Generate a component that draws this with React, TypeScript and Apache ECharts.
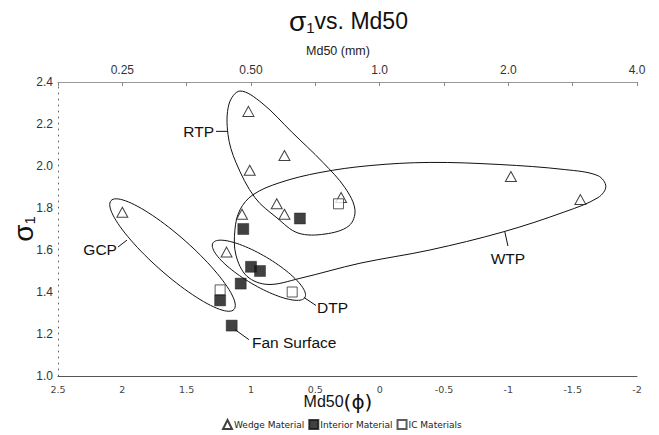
import React, { useEffect, useRef } from 'react';
import * as echarts from 'echarts';

// ---- data (x = Md50 in phi units, y = sigma1) ----
const wedgeMaterial: number[][] = [
  [2.0, 1.78], [1.02, 2.26], [0.74, 2.05], [1.01, 1.98], [0.8, 1.82], [0.74, 1.77],
  [1.07, 1.77], [0.3, 1.85], [1.19, 1.59], [-1.02, 1.95], [-1.56, 1.84],
];
const interiorMaterial: number[][] = [
  [0.62, 1.75], [1.06, 1.7], [1.0, 1.52], [0.93, 1.5], [1.08, 1.44], [1.24, 1.36], [1.15, 1.24],
];
const icMaterials: number[][] = [[0.32, 1.82], [1.24, 1.41], [0.68, 1.4]];

const seriesNames = ['Wedge Material', 'Interior Material', 'IC Materials'];

// top axis (mm) tick labels at phi positions
const topTickPhi = [2, 1, 0, -1, -2];
const topTickLabels = ['0.25', '0.50', '1.0', '2.0', '4.0'];

// envelope outlines (data space)
const rtpOutline: number[][] = [
  [1.086, 2.357], [0.915, 2.3], [0.682, 2.161], [0.441, 2.017], [0.27, 1.897], [0.192, 1.791],
  [0.239, 1.715], [0.425, 1.676], [0.635, 1.681], [0.798, 1.753], [0.969, 1.849], [1.117, 2.017],
  [1.179, 2.151], [1.171, 2.295],
];
const wtpOutline: number[][] = [
  [0.985, 1.863], [0.775, 1.921], [0.464, 1.969], [0.076, 2.002], [-0.39, 2.017], [-0.934, 2.007],
  [-1.439, 1.983], [-1.696, 1.954], [-1.758, 1.902], [-1.696, 1.849], [-1.439, 1.782], [-0.958, 1.686],
  [-0.39, 1.6], [0.153, 1.537], [0.62, 1.465], [0.868, 1.436], [1.031, 1.475], [1.117, 1.576],
  [1.125, 1.695], [1.086, 1.791],
];
// ellipses: two tips in data space
const gcpTips: number[][] = [[2.088, 1.835], [1.132, 1.317]];
const dtpTips: number[][] = [[1.296, 1.633], [0.581, 1.374]];

// envelope labels: leader from -> to (data space)
const labelNames = ['RTP', 'GCP', 'DTP', 'WTP', 'Fan Surface'];
const labelFrom: number[][] = [[1.272, 2.165], [2.034, 1.614], [0.495, 1.336], [-0.997, 1.619], [1.016, 1.173]];
const labelTo: number[][] = [[1.179, 2.165], [1.964, 1.647], [0.589, 1.374], [-0.973, 1.686], [1.125, 1.221]];

// ---- styles ----
const SANS = '"Liberation Sans", Arial, Helvetica, sans-serif';
const VERD = '"DejaVu Sans", Verdana, sans-serif';
const ellipseHalfWidth: Record<string, number> = { GCP: 19, DTP: 15 };
const labelPlacement: Record<string, { align: string; dx: number; dy: number; vAlign: string }> = {
  RTP: { align: 'right', dx: -2, dy: 0, vAlign: 'middle' },
  GCP: { align: 'right', dx: -1, dy: 2, vAlign: 'middle' },
  DTP: { align: 'left', dx: 1, dy: 2, vAlign: 'middle' },
  WTP: { align: 'center', dx: 0, dy: 4, vAlign: 'top' },
  'Fan Surface': { align: 'left', dx: 3, dy: 3, vAlign: 'middle' },
};

const lineStyle = { fill: 'none', stroke: '#111', lineWidth: 1 };

function curveRenderer(pts: number[][]) {
  return (_params: any, api: any) => {
    const points = pts.map((p) => api.coord(p));
    return { type: 'polygon', silent: true, shape: { points, smooth: 0.35 }, style: lineStyle };
  };
}

function ellipseRenderer(tips: number[][], halfWidth: number) {
  return (_params: any, api: any) => {
    const a = api.coord(tips[0]);
    const b = api.coord(tips[1]);
    const cx = (a[0] + b[0]) / 2;
    const cy = (a[1] + b[1]) / 2;
    const dx = b[0] - a[0];
    const dy = b[1] - a[1];
    const ra = Math.hypot(dx, dy) / 2;
    const th = Math.atan2(dy, dx);
    const points: number[][] = [];
    const n = 96;
    for (let i = 0; i < n; i++) {
      const t = (i / n) * Math.PI * 2;
      points.push([
        cx + ra * Math.cos(t) * Math.cos(th) - halfWidth * Math.sin(t) * Math.sin(th),
        cy + ra * Math.cos(t) * Math.sin(th) + halfWidth * Math.sin(t) * Math.cos(th),
      ]);
    }
    return { type: 'polygon', silent: true, shape: { points }, style: lineStyle };
  };
}

function labelRenderer(params: any, api: any) {
  const i = params.dataIndex;
  const name = labelNames[i];
  const f = api.coord(labelFrom[i]);
  const t = api.coord(labelTo[i]);
  const pl = labelPlacement[name];
  return {
    type: 'group',
    silent: true,
    children: [
      { type: 'line', shape: { x1: f[0], y1: f[1], x2: t[0], y2: t[1] }, style: { stroke: '#111', lineWidth: 1 } },
      {
        type: 'text',
        x: f[0] + pl.dx,
        y: f[1] + pl.dy,
        style: {
          text: name,
          fill: '#111',
          font: `15.5px ${SANS}`,
          align: pl.align,
          verticalAlign: pl.vAlign,
        },
      },
    ],
  };
}

export default function App() {
  const ref = useRef<HTMLDivElement>(null);
  useEffect(() => {
    if (!ref.current) return;
    const chart = echarts.init(ref.current, undefined, { renderer: 'svg' });
    const option: any = {
      animation: false,
      backgroundColor: '#fff',
      title: {
        text: '{s|σ}{sub|1}{t|vs. Md50}',
        left: 284,
        top: 2,
        textStyle: {
          fontWeight: 'normal',
          rich: {
            s: { fontSize: 28, fontFamily: SANS, fontWeight: 'normal', color: '#111' },
            sub: { fontSize: 15, fontFamily: SANS, fontWeight: 'normal', color: '#111', verticalAlign: 'bottom', lineHeight: 13 },
            t: { fontSize: 23, fontFamily: SANS, fontWeight: 'normal', color: '#111' },
          },
        },
      },
      grid: { left: 58, right: 22, top: 82, bottom: 59, outerBoundsMode: 'none', containLabel: false },
      legend: {
        data: seriesNames,
        left: 222,
        top: 419,
        padding: 0,
        itemWidth: 9,
        itemHeight: 9,
        itemGap: 4,
        textStyle: { fontSize: 9, fontFamily: VERD, color: '#222', padding: [0, 0, 0, -3] },
      },
      xAxis: [
        {
          type: 'value',
          min: -2,
          max: 2.5,
          interval: 0.5,
          inverse: true,
          position: 'bottom',
          axisLine: { show: true, onZero: false, lineStyle: { color: '#555', width: 1 } },
          axisTick: { show: false },
          splitLine: { show: false },
          axisLabel: { fontSize: 9.5, fontFamily: VERD, color: '#444', margin: 8 },
          name: '{a|Md50}{p|(ϕ)}',
          nameLocation: 'middle',
          nameMoveOverlap: false,
          nameGap: 17,
          nameTextStyle: {
            padding: [0, 19, 0, 0],
            lineHeight: 17,
            rich: {
              a: { fontSize: 16, fontFamily: SANS, color: '#111', lineHeight: 17 },
              p: { fontSize: 20, fontFamily: VERD, color: '#111', lineHeight: 17 },
            },
          },
        },
        {
          type: 'value',
          min: -2,
          max: 2.5,
          interval: 0.5,
          inverse: true,
          position: 'top',
          axisLine: { show: true, onZero: false, lineStyle: { color: '#999', width: 1 } },
          axisTick: { show: true, inside: true, length: 4, lineStyle: { color: '#888' } },
          splitLine: { show: false },
          axisLabel: {
            fontSize: 12,
            fontFamily: SANS,
            color: '#333',
            margin: 6,
            formatter: (v: number) => {
              const idx = topTickPhi.indexOf(v);
              return idx >= 0 ? topTickLabels[idx] : '';
            },
          },
          name: 'Md50 (mm)',
          nameLocation: 'middle',
          nameGap: 25,
          nameTextStyle: { fontSize: 12.5, fontFamily: SANS, color: '#222', padding: [0, 19, 0, 0] },
        },
      ],
      yAxis: {
        type: 'value',
        min: 1.0,
        max: 2.4,
        interval: 0.2,
        axisLine: { show: true, onZero: false, lineStyle: { color: '#666', type: [1, 5], width: 1 } },
        axisTick: { show: false },
        splitLine: { show: false },
        axisLabel: {
          fontSize: 12,
          fontFamily: SANS,
          color: '#333',
          margin: 5,
          formatter: (v: number) => v.toFixed(1),
        },
        name: '{s|σ}{sub|1}',
        nameLocation: 'middle',
        nameMoveOverlap: false,
        nameRotate: 90,
        nameGap: 21,
        nameTextStyle: {
          rich: {
            s: { fontSize: 28, fontFamily: SANS, color: '#111' },
            sub: { fontSize: 15, fontFamily: SANS, color: '#111', verticalAlign: 'bottom', lineHeight: 13 },
          },
        },
      },
      series: [
        { type: 'custom', name: 'RTP env', z: 1, silent: true, data: [rtpOutline[0]], renderItem: curveRenderer(rtpOutline) },
        { type: 'custom', name: 'WTP env', z: 1, silent: true, data: [wtpOutline[0]], renderItem: curveRenderer(wtpOutline) },
        { type: 'custom', name: 'GCP env', z: 1, silent: true, data: [gcpTips[0]], renderItem: ellipseRenderer(gcpTips, ellipseHalfWidth.GCP) },
        { type: 'custom', name: 'DTP env', z: 1, silent: true, data: [dtpTips[0]], renderItem: ellipseRenderer(dtpTips, ellipseHalfWidth.DTP) },
        { type: 'custom', name: 'labels', z: 2, silent: true, data: labelFrom, renderItem: labelRenderer },
        {
          type: 'scatter',
          name: seriesNames[0],
          z: 4,
          symbol: 'triangle',
          symbolSize: [11, 10],
          itemStyle: { color: '#fff', borderColor: '#111', borderWidth: 1 },
          data: wedgeMaterial,
        },
        {
          type: 'scatter',
          name: seriesNames[1],
          z: 5,
          symbol: 'rect',
          symbolSize: 11,
          itemStyle: { color: '#111', borderColor: '#111', borderWidth: 0.5 },
          data: interiorMaterial,
        },
        {
          type: 'scatter',
          name: seriesNames[2],
          z: 4,
          symbol: 'rect',
          symbolSize: 10,
          itemStyle: { color: '#fff', borderColor: '#333', borderWidth: 1 },
          data: icMaterials,
        },
      ],
    };
    chart.setOption(option);
    return () => chart.dispose();
  }, []);
  return <div ref={ref} style={{ position: 'absolute', left: 0, top: 0, width: 659, height: 435 }} />;
}
